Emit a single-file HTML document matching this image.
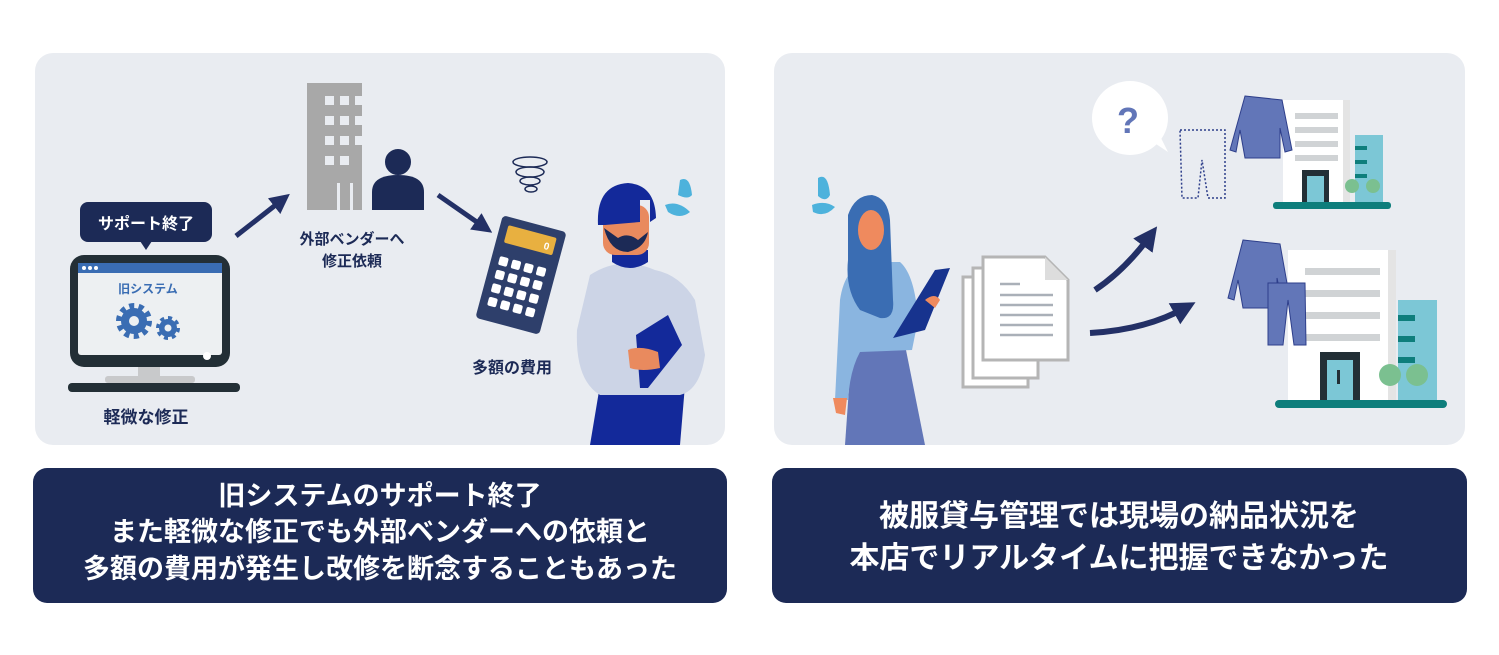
<!DOCTYPE html>
<html><head><meta charset="utf-8"><style>
html,body{margin:0;padding:0;background:#fff;}
svg{display:block;}
text{font-family:"Liberation Sans","Noto Sans CJK JP",sans-serif;font-weight:bold;}
</style></head><body>
<svg width="1499" height="655" viewBox="0 0 1499 655" xmlns="http://www.w3.org/2000/svg">
<defs><marker id="ah" markerWidth="4" markerHeight="4" refX="2" refY="2" orient="auto" markerUnits="strokeWidth"><path d="M0,0 L4,2 L0,4 Z" fill="#233066"/></marker></defs>
<rect x="35" y="53" width="690" height="392" rx="18" fill="#e9ecf1"/>
<rect x="774" y="53" width="691" height="392" rx="18" fill="#e9ecf1"/>
<rect x="33" y="468" width="694" height="135" rx="14" fill="#1c2a56"/>
<rect x="772" y="468" width="695" height="135" rx="14" fill="#1c2a56"/>
<g fill="#fff" font-size="27" text-anchor="middle">
<text x="380" y="505">旧システムのサポート終了</text>
<text x="380" y="541">また軽微な修正でも外部ベンダーへの依頼と</text>
<text x="380" y="578">多額の費用が発生し改修を断念することもあった</text>
</g>
<g fill="#fff" font-size="30" text-anchor="middle">
<text x="1119" y="526">被服貸与管理では現場の納品状況を</text>
<text x="1119" y="568">本店でリアルタイムに把握できなかった</text>
</g>
<!-- left panel -->
<rect x="80" y="202" width="132" height="40" rx="8" fill="#1c2a56"/>
<path d="M140,241 L146,250 L152,241 Z" fill="#1c2a56"/>
<text x="146" y="229" fill="#fff" font-size="16" text-anchor="middle">サポート終了</text>
<rect x="70" y="255" width="160" height="112" rx="14" fill="#232f36"/>
<rect x="78" y="263" width="144" height="92" rx="3" fill="#edf0f2"/>
<rect x="78" y="263" width="144" height="10" fill="#3a6db3"/>
<circle cx="84" cy="268" r="2" fill="#fff"/><circle cx="90" cy="268" r="2" fill="#fff"/><circle cx="96" cy="268" r="2" fill="#fff"/>
<text x="148" y="293" fill="#3a6db3" font-size="12" text-anchor="middle">旧システム</text>
<circle cx="134" cy="321" r="15" fill="none" stroke="#3a6db3" stroke-width="6" stroke-dasharray="5 4.4"/>
<circle cx="134" cy="321" r="13" fill="#3a6db3"/><circle cx="134" cy="321" r="5" fill="#edf0f2"/>
<circle cx="168" cy="328" r="10" fill="none" stroke="#3a6db3" stroke-width="4" stroke-dasharray="4 3.8"/>
<circle cx="168" cy="328" r="9" fill="#3a6db3"/><circle cx="168" cy="328" r="3.5" fill="#edf0f2"/>
<circle cx="207" cy="356" r="4" fill="#fff"/>
<rect x="138" y="367" width="22" height="10" fill="#c8c9cb"/>
<rect x="105" y="376" width="90" height="7" rx="3" fill="#c8c9cb"/>
<rect x="68" y="383" width="172" height="9" rx="4" fill="#232f36"/>
<text x="146" y="423" fill="#1c2a56" font-size="17" text-anchor="middle">軽微な修正</text>
<line x1="236" y1="236" x2="282" y2="200" stroke="#233066" stroke-width="5" marker-end="url(#ah)"/>
<rect x="307" y="83" width="55" height="127" fill="#a8a8a8"/>
<g fill="#e9ecf1">
<rect x="325" y="96" width="9" height="9"/><rect x="340" y="96" width="9" height="9"/><rect x="355" y="96" width="7" height="9"/>
<rect x="325" y="116" width="9" height="9"/><rect x="340" y="116" width="9" height="9"/><rect x="355" y="116" width="7" height="9"/>
<rect x="325" y="136" width="9" height="9"/><rect x="340" y="136" width="9" height="9"/><rect x="355" y="136" width="7" height="9"/>
<rect x="325" y="156" width="9" height="9"/><rect x="340" y="156" width="9" height="9"/>
<rect x="337" y="183" width="3" height="27"/><rect x="350" y="183" width="3" height="27"/>
</g>
<circle cx="398" cy="162" r="14" fill="#1c2a56" stroke="#e9ecf1" stroke-width="2"/>
<path d="M372,210 L372,192 Q372,175 398,175 Q424,175 424,192 L424,210 Z" fill="#1c2a56"/>
<text x="352" y="244" fill="#1c2a56" font-size="15" text-anchor="middle">外部ベンダーへ</text>
<text x="352" y="266" fill="#1c2a56" font-size="15" text-anchor="middle">修正依頼</text>
<line x1="438" y1="195" x2="484" y2="227" stroke="#233066" stroke-width="5" marker-end="url(#ah)"/>
<g fill="none" stroke="#1c2a56" stroke-width="1.5">
<ellipse cx="530" cy="162" rx="17" ry="5"/><ellipse cx="530" cy="172" rx="14" ry="5"/><ellipse cx="530" cy="181" rx="10" ry="4"/><ellipse cx="531" cy="189" rx="6" ry="3"/>
</g>
<g transform="rotate(15 521 275)">
<rect x="488" y="222" width="66" height="106" rx="4" fill="#2e3f6b"/>
<rect x="496" y="230" width="50" height="18" rx="2" fill="#e8b040"/>
<text x="541" y="244" fill="#fff" font-size="10" text-anchor="end">0</text>
<g fill="#fff">
<rect x="496" y="262" width="9" height="9" rx="2"/><rect x="509" y="262" width="9" height="9" rx="2"/><rect x="522" y="262" width="9" height="9" rx="2"/><rect x="535" y="262" width="9" height="9" rx="2"/>
<rect x="496" y="276" width="9" height="9" rx="2"/><rect x="509" y="276" width="9" height="9" rx="2"/><rect x="522" y="276" width="9" height="9" rx="2"/><rect x="535" y="276" width="9" height="9" rx="2"/>
<rect x="496" y="290" width="9" height="9" rx="2"/><rect x="509" y="290" width="9" height="9" rx="2"/><rect x="522" y="290" width="9" height="9" rx="2"/><rect x="535" y="290" width="9" height="9" rx="2"/>
<rect x="496" y="304" width="9" height="9" rx="2"/><rect x="509" y="304" width="9" height="9" rx="2"/><rect x="522" y="304" width="9" height="9" rx="2"/><rect x="535" y="304" width="9" height="9" rx="2"/>
</g></g>
<text x="512" y="373" fill="#1c2a56" font-size="16" text-anchor="middle">多額の費用</text>
<!-- man -->
<path d="M590,445 L600,385 L685,385 L680,445 Z" fill="#13299a"/>
<path d="M590,275 Q620,255 655,270 Q680,275 695,300 L705,355 Q700,390 680,395 L600,395 Q575,380 577,330 Z" fill="#ccd4e6"/>
<path d="M612,262 Q630,274 648,262 L648,250 L612,250 Z" fill="#13299a"/>
<rect x="603" y="205" width="46" height="50" rx="12" fill="#e98a5e"/>
<path d="M598,225 Q596,185 628,183 Q655,185 656,218 L650,222 L650,200 L640,200 L640,222 L605,225 Z" fill="#13299a"/>
<path d="M604,228 Q610,252 628,252 Q645,248 648,232 L638,240 Q628,232 618,238 Z" fill="#1c2a56"/>
<path d="M636,335 L668,315 L682,345 L648,388 L640,388 Z" fill="#13299a"/>
<path d="M628,350 Q640,345 658,352 L660,368 Q642,372 630,368 Z" fill="#e98a5e"/>
<path d="M680,180 Q690,175 692,195 Q688,200 678,195 Z" fill="#4db2dc"/>
<path d="M665,205 Q678,200 690,212 Q680,220 668,212 Z" fill="#4db2dc"/>
<!-- right panel -->
<path d="M818,178 Q828,172 830,195 Q826,203 818,196 Z" fill="#4db2dc"/>
<path d="M812,205 Q825,200 835,207 Q825,218 813,212 Z" fill="#4db2dc"/>
<path d="M845,445 L852,345 L905,345 L925,445 Z" fill="#6276b8"/>
<path d="M840,300 Q845,265 870,262 L900,262 Q915,275 918,320 L912,350 L860,352 Q850,370 848,400 L835,400 Z" fill="#8ab5e0"/>
<path d="M848,215 Q855,195 872,195 Q888,198 890,220 L893,300 Q895,320 880,318 L860,310 Q845,290 848,260 Z" fill="#3a6db3"/>
<ellipse cx="871" cy="230" rx="13" ry="20" fill="#ef8a5e"/>
<path d="M833,398 L847,398 L845,415 L836,413 Z" fill="#ef8a5e"/>
<path d="M893,338 L935,270 L950,268 L925,330 Z" fill="#17338e"/>
<path d="M925,300 Q935,292 940,300 L935,308 Z" fill="#ef8a5e"/>
<g stroke="#b5b5b5" stroke-width="3" fill="#fff">
<rect x="963" y="277" width="65" height="110"/>
<rect x="973" y="268" width="65" height="110"/>
<path d="M983,257 L1045,257 L1068,280 L1068,360 L983,360 Z"/>
</g>
<path d="M1045,257 L1045,280 L1068,280 Z" fill="#ddd"/>
<g stroke="#aab0b8" stroke-width="2.5"><line x1="1000" y1="284" x2="1020" y2="284"/><line x1="1000" y1="295" x2="1053" y2="295"/><line x1="1000" y1="305" x2="1053" y2="305"/><line x1="1000" y1="315" x2="1053" y2="315"/><line x1="1000" y1="325" x2="1053" y2="325"/><line x1="1000" y1="335" x2="1053" y2="335"/></g>
<path d="M1095,290 Q1125,270 1150,236" stroke="#233066" stroke-width="6" fill="none" marker-end="url(#ah)"/>
<path d="M1090,333 Q1145,330 1185,308" stroke="#233066" stroke-width="6" fill="none" marker-end="url(#ah)"/>
<ellipse cx="1130" cy="118" rx="38" ry="37" fill="#fff"/>
<path d="M1150,140 L1168,152 L1158,132 Z" fill="#fff"/>
<text x="1128" y="133" fill="#6276b8" font-size="36" text-anchor="middle">?</text>
<path d="M1180,130 L1225,130 L1225,198 L1208,198 L1202,160 L1198,198 L1182,198 Z" fill="none" stroke="#2e3f8b" stroke-width="1.5" stroke-dasharray="2 2"/>
<rect x="1283" y="100" width="60" height="102" fill="#fff"/>
<rect x="1343" y="100" width="7" height="102" fill="#e4e4e4"/>
<g fill="#d0d3d5"><rect x="1295" y="113" width="43" height="6"/><rect x="1295" y="127" width="43" height="6"/><rect x="1295" y="141" width="43" height="6"/><rect x="1295" y="155" width="43" height="6"/></g>
<rect x="1355" y="135" width="28" height="67" fill="#7cc7d6"/>
<g fill="#0e7e7c"><rect x="1355" y="146" width="12" height="4"/><rect x="1355" y="160" width="12" height="4"/><rect x="1355" y="174" width="12" height="4"/></g>
<rect x="1302" y="170" width="27" height="32" fill="#232f36"/><rect x="1307" y="176" width="17" height="26" fill="#7cc7d6"/>
<circle cx="1352" cy="186" r="7" fill="#7bc090"/><circle cx="1373" cy="186" r="7" fill="#7bc090"/>
<rect x="1273" y="202" width="118" height="7" rx="3" fill="#0e7e7c"/>
<path d="M1245,96 L1282,100 L1292,150 L1285,152 L1280,128 L1280,158 L1245,158 L1240,130 L1236,152 L1230,150 Z" fill="#6276b8" stroke="#2e3f8b" stroke-width="1"/>
<rect x="1288" y="250" width="100" height="150" fill="#fff"/>
<rect x="1388" y="250" width="8" height="150" fill="#e4e4e4"/>
<g fill="#d0d3d5"><rect x="1305" y="268" width="75" height="7"/><rect x="1305" y="290" width="75" height="7"/><rect x="1305" y="312" width="75" height="7"/><rect x="1305" y="334" width="75" height="7"/></g>
<rect x="1398" y="300" width="39" height="100" fill="#7cc7d6"/>
<g fill="#0e7e7c"><rect x="1398" y="315" width="17" height="6"/><rect x="1398" y="336" width="17" height="6"/><rect x="1398" y="357" width="17" height="6"/></g>
<rect x="1320" y="352" width="40" height="48" fill="#232f36"/><rect x="1327" y="360" width="26" height="40" fill="#7cc7d6"/>
<rect x="1337" y="370" width="3" height="14" fill="#232f36"/>
<circle cx="1390" cy="375" r="11" fill="#7bc090"/><circle cx="1417" cy="375" r="11" fill="#7bc090"/>
<rect x="1275" y="400" width="172" height="8" rx="4" fill="#0e7e7c"/>
<path d="M1243,240 L1280,244 L1290,300 L1282,302 L1277,278 L1277,308 L1243,308 L1238,280 L1234,300 L1228,298 Z" fill="#6276b8" stroke="#2e3f8b" stroke-width="1"/>
<path d="M1268,283 L1305,283 L1306,345 L1294,345 L1288,300 L1283,345 L1268,345 Z" fill="#6276b8" stroke="#2e3f8b" stroke-width="1"/>
</svg>
</body></html>
